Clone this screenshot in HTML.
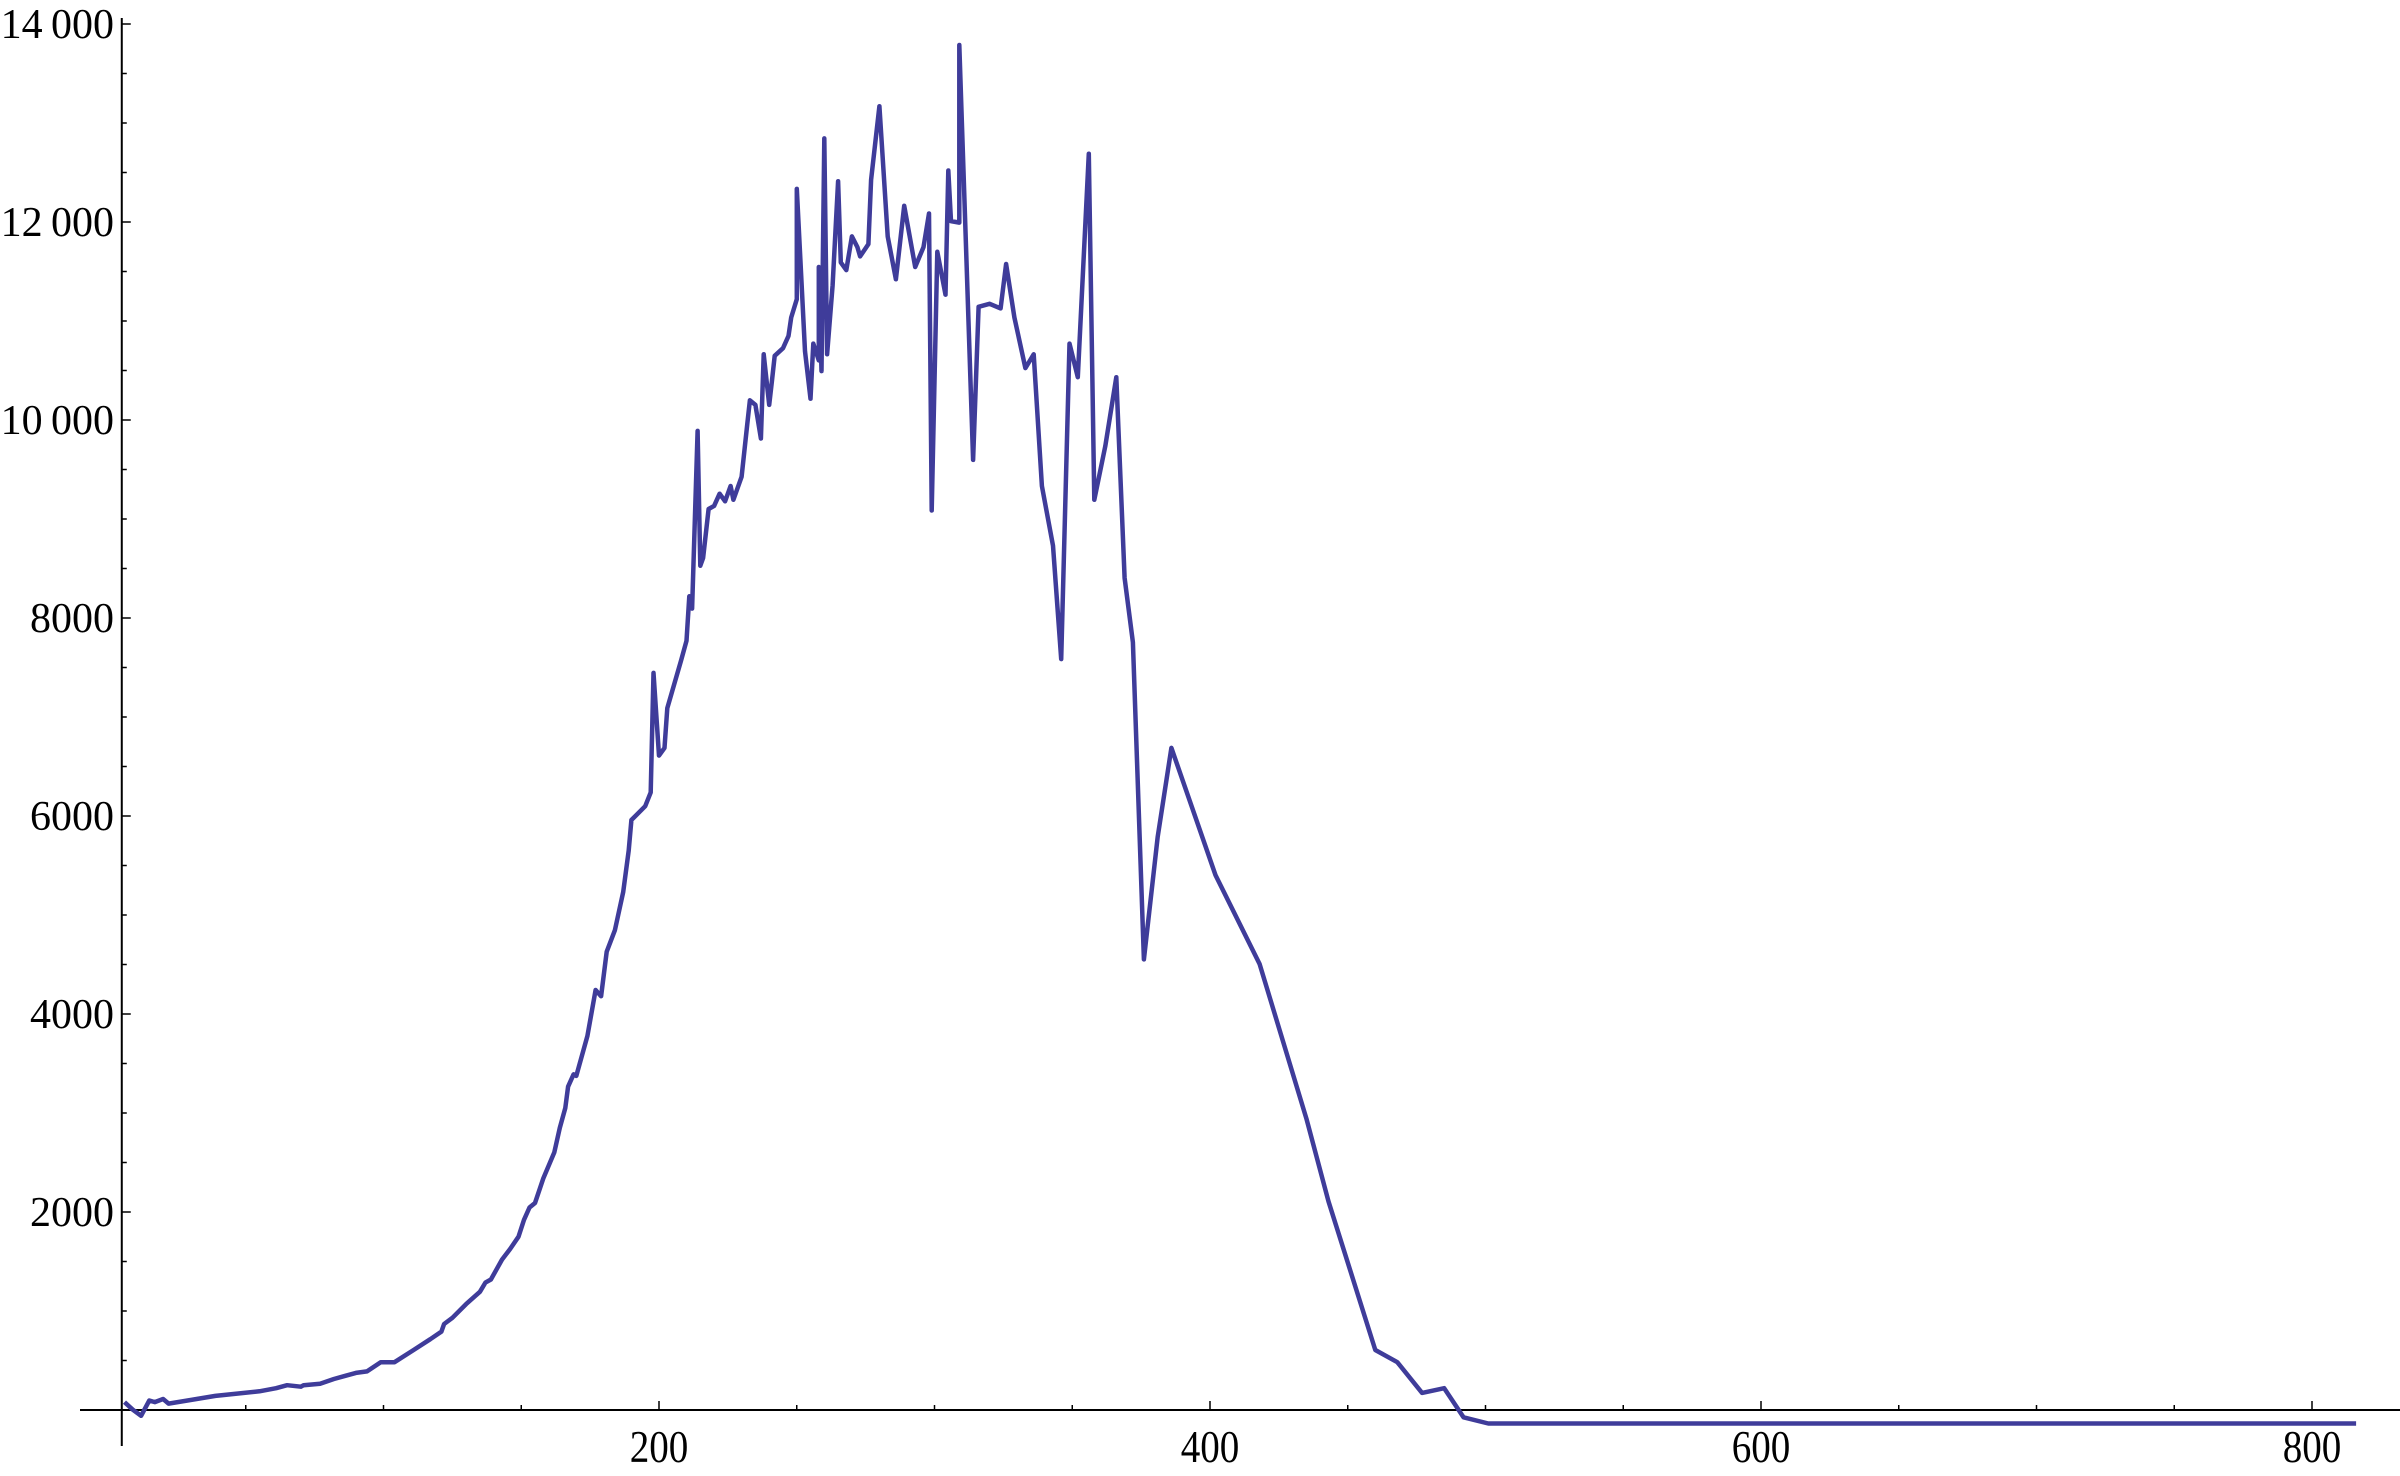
<!DOCTYPE html>
<html><head><meta charset="utf-8"><style>
html,body{margin:0;padding:0;background:#fff;}
svg{display:block;}
text{font-family:"Liberation Serif",serif;fill:#000;}
</style></head><body>
<svg id="chart" width="2400" height="1476" viewBox="0 0 2400 1476" xmlns="http://www.w3.org/2000/svg">
<g id="axes"></g>
<polyline id="series" fill="none" stroke="#3f3c9a" stroke-width="4.5" stroke-linejoin="round"></polyline>
</svg>
<script>
const xValues=[6,9,12,15,17,20,22,39,55,61,65,70,71,77,82,86,90,94,99,104,111,117,121,122,125,130,135,137,139,143,146,149,151,153,155,158,162,164,166,167,169,170,174,177,179,181,184,187,189,190,195,197,198,200,202,203,208,210,211,212,214,215,216,218,220,222,224,226,227,230,232,233,235,237,238,240,241,242,245,247,248,250,250,253,255,256,258,258,259,260,261,263,265,266,268,270,272,273,276,277,280,283,286,289,293,296,298,299,301,304,305,306,309,309,314,316,320,324,326,329,333,336,339,343,346,349,352,356,358,362,366,369,372,376,381,386,402,418,435,443,460,468,477,485,492,501,816];
const yValues=[80,3,-59,96,80,111,65,142,189,220,251,235,251,266,313,344,375,390,483,483,607,715,792,869,931,1070,1194,1287,1318,1519,1627,1751,1921,2045,2091,2339,2602,2849,3050,3267,3391,3375,3778,4242,4180,4629,4846,5232,5650,5960,6099,6238,7445,6610,6688,7090,7569,7770,8219,8095,9890,8528,8606,9101,9132,9256,9179,9333,9194,9426,9952,10199,10153,9813,10664,10153,10400,10648,10725,10849,11035,11220,12334,10695,10215,10772,10602,11545,10494,12844,10664,11360,12412,11592,11514,11855,11746,11653,11777,12427,13170,11855,11421,12164,11545,11746,12086,9086,11699,11266,12520,12009,11994,13788,9597,11143,11174,11127,11576,11035,10524,10664,9333,8730,7585,10772,10432,12690,9194,9736,10432,8405,7755,4552,5790,6688,5403,4505,2943,2107,606,483,173,220,-74,-136,-136];
const xTicks=[200,400,600,800];
const yTicks=[2000,4000,6000,8000,10000,12000,14000];
const yTickLabels=["2000","4000","6000","8000","10\u2009000","12\u2009000","14\u2009000"];

const X=v=>108+2.755*v;
const Y=v=>1410-0.099*v;
const NS="http://www.w3.org/2000/svg";
const axes=document.getElementById('axes');
function mk(tag,attrs){const e=document.createElementNS(NS,tag);for(const k in attrs)e.setAttribute(k,attrs[k]);axes.appendChild(e);return e;}
const AX=X(5);
let l=mk('line',{x1:80,y1:Y(0),x2:2400,y2:Y(0),stroke:'#000','stroke-width':2});


l=mk('line',{x1:AX,y1:18,x2:AX,y2:1446,stroke:'#000','stroke-width':2});


for(let v=50;v<=850;v+=50){
  const major=v%200===0;
  const t=mk('line',{x1:X(v),y1:Y(0),x2:X(v),y2:Y(0)-(major?9:5),stroke:'#000','stroke-width':1.5});
  
  
}
for(let v=500;v<=14000;v+=500){
  const major=v%2000===0;
  const t=mk('line',{x1:AX,y1:Y(v),x2:AX+(major?9:5),y2:Y(v),stroke:'#000','stroke-width':1.5});
  
  
}
xTicks.forEach(v=>{
  const t=mk('text',{x:0,y:0,'font-size':46,'text-anchor':'middle',transform:`translate(${X(v)},1462) scale(0.85,1)`});
  t.textContent=String(v);
  
  
});
yTicks.forEach((v,i)=>{
  const t=mk('text',{x:114,y:Y(v)+14,'font-size':42,'text-anchor':'end'});
  t.textContent=yTickLabels[i];
  
  
});
document.getElementById('series').setAttribute('points',xValues.map((x,i)=>X(x).toFixed(1)+','+Y(yValues[i]).toFixed(1)).join(' '));
</script>
</body></html>
